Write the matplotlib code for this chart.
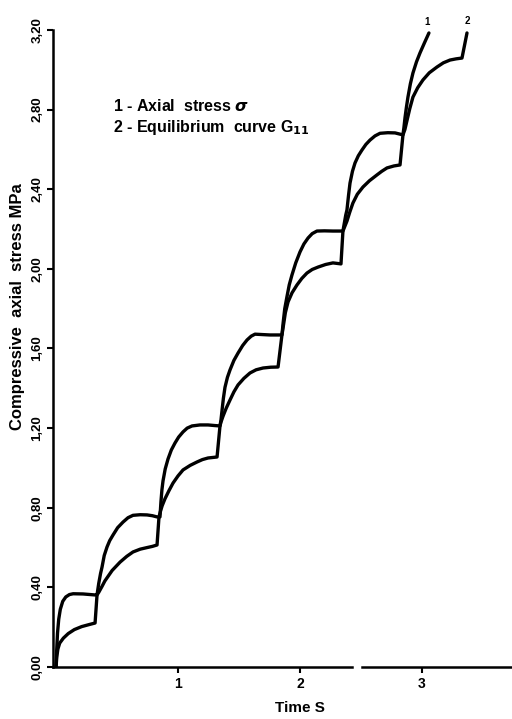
import matplotlib.pyplot as plt

# ---- data ----
# curve 1: axial stress sigma (MPa) vs time (s)
t_axial = [0.00, 0.005, 0.012, 0.022, 0.035, 0.055, 0.080, 0.110, 0.140, 0.221, 0.320, 0.336,
           0.350, 0.365, 0.377, 0.395, 0.418, 0.440, 0.467, 0.505, 0.549, 0.590, 0.631, 0.690,
           0.746, 0.790, 0.828, 0.852,
           0.860, 0.868, 0.877, 0.895, 0.918, 0.945, 0.975, 1.005, 1.041, 1.075, 1.115, 1.180,
           1.246, 1.300, 1.344,
           1.352, 1.361, 1.372, 1.385, 1.405, 1.426, 1.458, 1.492, 1.530, 1.566, 1.600, 1.631,
           1.690, 1.754, 1.800, 1.852,
           1.862, 1.875, 1.893, 1.912, 1.934, 1.965, 2.000, 2.032, 2.066, 2.100, 2.139, 2.200,
           2.270, 2.352,
           2.362, 2.375, 2.385, 2.398, 2.410, 2.430, 2.451, 2.478, 2.508, 2.540, 2.574, 2.615,
           2.656, 2.720, 2.779, 2.844,
           2.852, 2.861, 2.872, 2.885, 2.905, 2.926, 2.955, 2.984, 3.020, 3.057]
s_axial = [0.00, 0.080, 0.170, 0.240, 0.290, 0.330, 0.352, 0.364, 0.368, 0.367, 0.362, 0.362,
           0.420, 0.470, 0.502, 0.560, 0.603, 0.635, 0.663, 0.700, 0.728, 0.750, 0.762, 0.765,
           0.764, 0.760, 0.754, 0.754,
           0.830, 0.890, 0.935, 0.995, 1.045, 1.090, 1.125, 1.155, 1.181, 1.200, 1.211, 1.216,
           1.216, 1.213, 1.211,
           1.240, 1.290, 1.350, 1.405, 1.455, 1.492, 1.540, 1.577, 1.615, 1.643, 1.662, 1.672,
           1.670, 1.668, 1.668, 1.668,
           1.730, 1.800, 1.860, 1.920, 1.969, 2.030, 2.085, 2.125, 2.155, 2.177, 2.190, 2.191,
           2.190, 2.190,
           2.225, 2.270, 2.296, 2.370, 2.431, 2.490, 2.532, 2.568, 2.597, 2.625, 2.647, 2.668,
           2.681, 2.684, 2.683, 2.673,
           2.710, 2.760, 2.810, 2.863, 2.930, 2.984, 3.040, 3.085, 3.135, 3.185]

# curve 2: equilibrium curve G11
t_equil = [0.00, 0.006, 0.015, 0.030, 0.060, 0.100, 0.150, 0.210, 0.270, 0.320, 0.336,
           0.350, 0.377, 0.400, 0.426, 0.460, 0.525, 0.580, 0.631, 0.690, 0.746, 0.790, 0.828, 0.844,
           0.855, 0.870, 0.893, 0.925, 0.959, 1.000, 1.041, 1.100, 1.156, 1.200, 1.246, 1.320, 1.344,
           1.352, 1.369, 1.395, 1.426, 1.458, 1.492, 1.540, 1.590, 1.640, 1.697, 1.760, 1.820, 1.852,
           1.861, 1.880, 1.902, 1.935, 1.975, 2.015, 2.057, 2.100, 2.148, 2.210, 2.270, 2.336, 2.352,
           2.362, 2.385, 2.408, 2.434, 2.470, 2.516, 2.570, 2.631, 2.670, 2.713, 2.770, 2.820, 2.844,
           2.860, 2.877, 2.900, 2.926, 2.965, 3.008, 3.060, 3.123, 3.175, 3.230, 3.280, 3.328, 3.369]
s_equil = [0.00, 0.050, 0.090, 0.120, 0.145, 0.168, 0.188, 0.203, 0.213, 0.221, 0.362,
           0.375, 0.405, 0.432, 0.455, 0.485, 0.527, 0.556, 0.578, 0.592, 0.600, 0.606, 0.613, 0.754,
           0.780, 0.810, 0.845, 0.885, 0.924, 0.960, 0.990, 1.013, 1.030, 1.042, 1.050, 1.055, 1.211,
           1.230, 1.260, 1.300, 1.341, 1.382, 1.417, 1.450, 1.477, 1.493, 1.502, 1.506, 1.507, 1.668,
           1.703, 1.780, 1.834, 1.880, 1.919, 1.952, 1.979, 1.997, 2.009, 2.022, 2.030, 2.025, 2.190,
           2.205, 2.240, 2.285, 2.331, 2.375, 2.411, 2.443, 2.472, 2.490, 2.507, 2.517, 2.522, 2.673,
           2.700, 2.745, 2.805, 2.863, 2.910, 2.949, 2.985, 3.014, 3.035, 3.049, 3.055, 3.059, 3.185]

y_ticks = [0.0, 0.4, 0.8, 1.2, 1.6, 2.0, 2.4, 2.8, 3.2]
x_ticks = [1, 2, 3]
x_break = (2.426, 2.508)   # gap drawn in the time axis

plt.rcParams['font.family'] = ['Liberation Sans', 'DejaVu Sans']
plt.rcParams['font.weight'] = 'bold'

fig = plt.figure(figsize=(5.12, 7.19), dpi=100)
ax = fig.add_axes([0.1035, 0.0723, 0.8965, 0.886])

for t, s in [(t_axial, s_axial), (t_equil, s_equil)]:
    ax.plot(t, s, color='black', lw=2.4, solid_capstyle='round', solid_joinstyle='round')

# curve numbers at the line ends
ax.annotate('1', (t_axial[-1], s_axial[-1]), xytext=(-1, 4), textcoords='offset points',
            ha='center', va='bottom', fontsize=7, fontweight='bold')
ax.annotate('2', (t_equil[-1], s_equil[-1]), xytext=(0, 5), textcoords='offset points',
            ha='center', va='bottom', fontsize=7, fontweight='bold')

xmin, xmax = -0.025, 3.738
ax.set_xlim(xmin, xmax)
ax.set_ylim(0, 3.2)

for side in ['top', 'right', 'bottom']:
    ax.spines[side].set_visible(False)
ax.spines['left'].set_linewidth(1.8)

# broken time axis
f0 = (x_break[0] - xmin) / (xmax - xmin)
f1 = (x_break[1] - xmin) / (xmax - xmin)
ax.axhline(0, xmin=0, xmax=f0, color='black', lw=1.8, clip_on=False)
ax.axhline(0, xmin=f1, xmax=1, color='black', lw=1.8, clip_on=False)

ax.set_yticks(y_ticks)
ax.set_yticklabels([f'{v:.2f}'.replace('.', ',') for v in y_ticks],
                   rotation=90, va='center', fontsize=9.5, fontweight='bold')
ax.set_xticks(x_ticks)
ax.set_xticklabels([str(v) for v in x_ticks], fontsize=10, fontweight='bold')
ax.tick_params(axis='both', direction='out', length=4, width=1.5, pad=3)

ax.set_xlabel('Time S', fontsize=11, fontweight='bold')
ax.xaxis.set_label_coords((2.0 - xmin) / (xmax - xmin), -0.053)
ax.set_ylabel('Compressive  axial  stress MPa', fontsize=12, fontweight='bold')
ax.yaxis.set_label_coords(-0.06, 0.565)

fig.text(0.221, 0.853, '1 - Axial  stress $\\sigma$', fontsize=11.5, fontweight='bold', va='center')
fig.text(0.221, 0.822, '2 - Equilibrium  curve G$_{\\mathbf{11}}$', fontsize=11.5, fontweight='bold',
         va='center')

fig.savefig('out.png', dpi=100)
